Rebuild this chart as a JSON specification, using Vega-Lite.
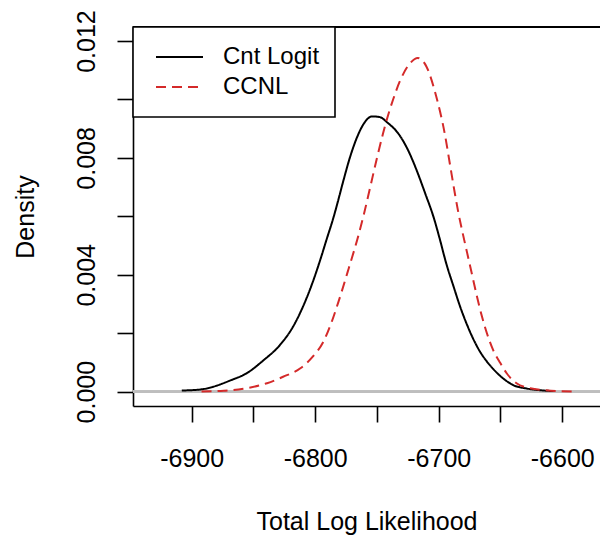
{
  "$schema": "https://vega.github.io/schema/vega-lite/v6.json",
  "width": 467,
  "height": 379,
  "autosize": {"type": "none"},
  "padding": {"left": 133, "top": 27, "right": 0, "bottom": 133},
  "background": "white",
  "config": {
    "view": {"stroke": null},
    "font": "Liberation Sans",
    "axis": {
      "grid": false,
      "domainColor": "black",
      "domainWidth": 1.6,
      "tickColor": "black",
      "tickWidth": 1.6,
      "tickSize": 16,
      "labelFont": "Liberation Sans",
      "labelFontSize": 25,
      "labelColor": "black",
      "labelOverlap": false,
      "labelFlush": false,
      "titleFont": "Liberation Sans",
      "titleFontSize": 25,
      "titleFontWeight": "normal",
      "titleColor": "black"
    },
    "legend": {
      "orient": "none",
      "legendX": 0,
      "legendY": 0,
      "title": null,
      "strokeColor": "black",
      "fillColor": "white",
      "strokeWidth": 1.6,
      "padding": 15,
      "symbolOffset": 7,
      "symbolType": "stroke",
      "symbolSize": 2209,
      "symbolStrokeWidth": 2,
      "labelFont": "Liberation Sans",
      "labelFontSize": 24,
      "labelColor": "black",
      "labelOffset": 19,
      "clipHeight": 30,
      "rowPadding": 0,
      "cornerRadius": 0
    }
  },
  "data": {
    "values": [
      {"x": -6908, "density": 0.00004, "model": "Cnt Logit"},
      {"x": -6892, "density": 0.00008, "model": "Cnt Logit"},
      {"x": -6882.5, "density": 0.00017, "model": "Cnt Logit"},
      {"x": -6869, "density": 0.00038, "model": "Cnt Logit"},
      {"x": -6855.5, "density": 0.00063, "model": "Cnt Logit"},
      {"x": -6842, "density": 0.00107, "model": "Cnt Logit"},
      {"x": -6828.5, "density": 0.00160, "model": "Cnt Logit"},
      {"x": -6818, "density": 0.00222, "model": "Cnt Logit"},
      {"x": -6810, "density": 0.00290, "model": "Cnt Logit"},
      {"x": -6802, "density": 0.00375, "model": "Cnt Logit"},
      {"x": -6796, "density": 0.00450, "model": "Cnt Logit"},
      {"x": -6791, "density": 0.00518, "model": "Cnt Logit"},
      {"x": -6785, "density": 0.00599, "model": "Cnt Logit"},
      {"x": -6782, "density": 0.00645, "model": "Cnt Logit"},
      {"x": -6777, "density": 0.00725, "model": "Cnt Logit"},
      {"x": -6772, "density": 0.00800, "model": "Cnt Logit"},
      {"x": -6766, "density": 0.00872, "model": "Cnt Logit"},
      {"x": -6761, "density": 0.00915, "model": "Cnt Logit"},
      {"x": -6754, "density": 0.00942, "model": "Cnt Logit"},
      {"x": -6748, "density": 0.00940, "model": "Cnt Logit"},
      {"x": -6741, "density": 0.00919, "model": "Cnt Logit"},
      {"x": -6733, "density": 0.00885, "model": "Cnt Logit"},
      {"x": -6725, "density": 0.00828, "model": "Cnt Logit"},
      {"x": -6718, "density": 0.00759, "model": "Cnt Logit"},
      {"x": -6711, "density": 0.00679, "model": "Cnt Logit"},
      {"x": -6704, "density": 0.00595, "model": "Cnt Logit"},
      {"x": -6699, "density": 0.00520, "model": "Cnt Logit"},
      {"x": -6694, "density": 0.00440, "model": "Cnt Logit"},
      {"x": -6688, "density": 0.00360, "model": "Cnt Logit"},
      {"x": -6683, "density": 0.00295, "model": "Cnt Logit"},
      {"x": -6677, "density": 0.00228, "model": "Cnt Logit"},
      {"x": -6672, "density": 0.00180, "model": "Cnt Logit"},
      {"x": -6667, "density": 0.00140, "model": "Cnt Logit"},
      {"x": -6661, "density": 0.00103, "model": "Cnt Logit"},
      {"x": -6656, "density": 0.00078, "model": "Cnt Logit"},
      {"x": -6648, "density": 0.00046, "model": "Cnt Logit"},
      {"x": -6640, "density": 0.00023, "model": "Cnt Logit"},
      {"x": -6629, "density": 0.00011, "model": "Cnt Logit"},
      {"x": -6618, "density": 0.00005, "model": "Cnt Logit"},
      {"x": -6607, "density": 0.00002, "model": "Cnt Logit"},
      {"x": -6892, "density": 0.00001, "model": "CCNL"},
      {"x": -6874, "density": 0.00003, "model": "CCNL"},
      {"x": -6855.5, "density": 0.00012, "model": "CCNL"},
      {"x": -6839, "density": 0.00029, "model": "CCNL"},
      {"x": -6826, "density": 0.00051, "model": "CCNL"},
      {"x": -6812, "density": 0.00080, "model": "CCNL"},
      {"x": -6802, "density": 0.00120, "model": "CCNL"},
      {"x": -6793.5, "density": 0.00170, "model": "CCNL"},
      {"x": -6787, "density": 0.00235, "model": "CCNL"},
      {"x": -6781, "density": 0.00310, "model": "CCNL"},
      {"x": -6773, "density": 0.00420, "model": "CCNL"},
      {"x": -6765, "density": 0.00535, "model": "CCNL"},
      {"x": -6761, "density": 0.00600, "model": "CCNL"},
      {"x": -6756, "density": 0.00690, "model": "CCNL"},
      {"x": -6750, "density": 0.00800, "model": "CCNL"},
      {"x": -6745, "density": 0.00885, "model": "CCNL"},
      {"x": -6740, "density": 0.00960, "model": "CCNL"},
      {"x": -6737, "density": 0.00999, "model": "CCNL"},
      {"x": -6731, "density": 0.01067, "model": "CCNL"},
      {"x": -6723, "density": 0.01125, "model": "CCNL"},
      {"x": -6717, "density": 0.01142, "model": "CCNL"},
      {"x": -6710, "density": 0.01113, "model": "CCNL"},
      {"x": -6702, "density": 0.01010, "model": "CCNL"},
      {"x": -6695, "density": 0.00880, "model": "CCNL"},
      {"x": -6691, "density": 0.00780, "model": "CCNL"},
      {"x": -6687, "density": 0.00680, "model": "CCNL"},
      {"x": -6684, "density": 0.00610, "model": "CCNL"},
      {"x": -6681, "density": 0.00550, "model": "CCNL"},
      {"x": -6677, "density": 0.00475, "model": "CCNL"},
      {"x": -6673, "density": 0.00400, "model": "CCNL"},
      {"x": -6669, "density": 0.00325, "model": "CCNL"},
      {"x": -6665, "density": 0.00257, "model": "CCNL"},
      {"x": -6661, "density": 0.00200, "model": "CCNL"},
      {"x": -6656, "density": 0.00143, "model": "CCNL"},
      {"x": -6650, "density": 0.00097, "model": "CCNL"},
      {"x": -6645, "density": 0.00063, "model": "CCNL"},
      {"x": -6637, "density": 0.00029, "model": "CCNL"},
      {"x": -6626, "density": 0.00012, "model": "CCNL"},
      {"x": -6613, "density": 0.00005, "model": "CCNL"},
      {"x": -6590, "density": 0.00000, "model": "CCNL"}
    ]
  },
  "layer": [
    {
      "mark": {"type": "rule", "color": "#bebebe", "strokeWidth": 2},
      "encoding": {"y": {"datum": 0}}
    },
    {
      "mark": {"type": "rule", "color": "black", "strokeWidth": 1.6},
      "encoding": {"y": {"datum": 0.01248}}
    },
    {
      "mark": {"type": "line", "strokeWidth": 2, "interpolate": "monotone"},
      "encoding": {
        "x": {
          "field": "x",
          "type": "quantitative",
          "scale": {"domain": [-6947.5, -6569.45], "nice": false, "zero": false},
          "axis": {
            "title": "Total Log Likelihood",
            "values": [-6900, -6850, -6800, -6750, -6700, -6650, -6600],
            "labelExpr": "datum.value % 100 == 0 ? '' + datum.value : ''",
            "labelBaseline": "top",
            "labelPadding": 24,
            "titlePadding": 38
          }
        },
        "y": {
          "field": "density",
          "type": "quantitative",
          "scale": {"domain": [-0.00049, 0.01248], "nice": false, "zero": false},
          "axis": {
            "title": "Density",
            "values": [0, 0.002, 0.004, 0.006, 0.008, 0.01, 0.012],
            "labelExpr": "round(datum.value * 1000) % 4 == 0 ? format(datum.value, '.3f') : ''",
            "labelAngle": 270,
            "labelAlign": "center",
            "labelBaseline": "alphabetic",
            "labelPadding": 23,
            "titlePadding": 36
          }
        },
        "color": {
          "field": "model",
          "type": "nominal",
          "scale": {"domain": ["Cnt Logit", "CCNL"], "range": ["black", "#d42a2a"]}
        },
        "strokeDash": {
          "field": "model",
          "type": "nominal",
          "scale": {"domain": ["Cnt Logit", "CCNL"], "range": [[1, 0], [10, 6]]}
        }
      }
    }
  ]
}
